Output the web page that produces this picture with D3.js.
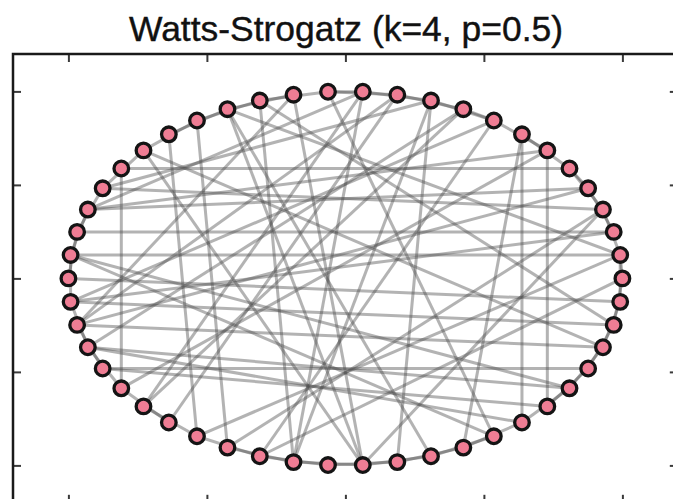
<!DOCTYPE html>
<html>
<head>
<meta charset="utf-8">
<script src="https://cdn.jsdelivr.net/npm/d3@7"></script>
<style>
  html, body { margin: 0; padding: 0; background: #fff; }
  svg { display: block; }
</style>
</head>
<body>
<svg id="chart" width="673" height="499"></svg>
<script>
// Watts-Strogatz small-world graph, n = 50, k = 4, p = 0.5, circular layout
const title = "Watts-Strogatz (k=4, p=0.5)";
const nodeCount = 50;
const nodeIds = d3.range(nodeCount);

// Edges kept from the ring lattice (neighbours at distance 1 and 2)
const latticeEdges = [
  [0,1],[1,3],[2,4],[3,5],[4,5],[5,7],[6,8],[8,9],
  [8,10],[9,11],[10,12],[11,13],[12,13],[13,15],[14,16],[15,17],
  [16,18],[17,19],[19,21],[21,23],[22,24],[23,25],[24,26],
  [26,28],[27,29],[28,30],[30,32],[31,33],[33,35],[34,36],[35,37],
  [36,38],[37,39],[38,40],[39,41],[40,42],[41,43],[43,45],[44,46],
  [45,47],[46,48],[47,49],[48,0],[49,1]
];

// Rewired shortcut edges
const shortcutEdges = [
  [20,30],[5,20],[29,46],[7,43],[6,44],[18,33],[17,34],[7,41],[30,6],
  [22,4],[22,6],[21,3],[23,2],[24,1],[26,2],[25,49],[26,48],[27,47],[29,44],[28,45],
  [13,42],[14,38],[16,38],[12,36],[11,27],[12,22],[10,21],[15,48],[16,1],[9,31],
  [8,26],[19,47],[27,4],[28,9],[31,12],[32,11],[34,3],[35,8],[36,15],[38,19],
  [40,16],[42,24],[45,24],[0,35],[1,33],[3,38],[10,36],[14,27],[39,10],[43,28]
];

const xTicks = [-1.0, -0.5, 0.0, 0.5, 1.0];
const yTicks = [-1.0, -0.5, 0.0, 0.5, 1.0];

const svg = d3.select("#chart");

const plotLeft = 13, plotTop = 54;
const unitX = 277, unitY = 187;
const x = d3.scaleLinear().domain([-1.2, 1.2]).range([plotLeft, plotLeft + 2.4 * unitX]);
const y = d3.scaleLinear().domain([-1.2, 1.2]).range([plotTop + 2.4 * unitY, plotTop]);

// circular layout positions
const pos = nodeIds.map(i => {
  const t = 2 * Math.PI * i / nodeCount;
  return [Math.cos(t), Math.sin(t)];
});

const edges = latticeEdges.concat(shortcutEdges);

// edges
svg.append("g")
  .selectAll("line")
  .data(edges)
  .join("line")
  .attr("x1", d => x(pos[d[0]][0]))
  .attr("y1", d => y(pos[d[0]][1]))
  .attr("x2", d => x(pos[d[1]][0]))
  .attr("y2", d => y(pos[d[1]][1]))
  .attr("stroke", "#4a4a4a")
  .attr("stroke-opacity", 0.42)
  .attr("stroke-width", 3);

// nodes
svg.append("g")
  .selectAll("circle")
  .data(nodeIds)
  .join("circle")
  .attr("cx", i => x(pos[i][0]))
  .attr("cy", i => y(pos[i][1]))
  .attr("r", 7.3)
  .attr("fill", "#ef7d94")
  .attr("stroke", "#141414")
  .attr("stroke-width", 3.3);

// frame and inward ticks on all four sides
const x0 = x(-1.2), x1 = x(1.2), y0 = y(-1.2), y1 = y(1.2);
const tickLen = 8;

const axTop = d3.axisBottom(x).tickValues(xTicks).tickSize(tickLen).tickFormat("");
const axBottom = d3.axisTop(x).tickValues(xTicks).tickSize(tickLen).tickFormat("");
const axLeft = d3.axisRight(y).tickValues(yTicks).tickSize(tickLen).tickFormat("");
const axRight = d3.axisLeft(y).tickValues(yTicks).tickSize(tickLen).tickFormat("");

const axes = [
  svg.append("g").attr("transform", `translate(0,${y1})`).call(axTop),
  svg.append("g").attr("transform", `translate(0,${y0})`).call(axBottom),
  svg.append("g").attr("transform", `translate(${x0},0)`).call(axLeft),
  svg.append("g").attr("transform", `translate(${x1},0)`).call(axRight)
];
axes.forEach(g => {
  g.select(".domain").remove();
  g.selectAll(".tick line").attr("stroke", "#3a3a3a").attr("stroke-width", 2);
});

svg.append("rect")
  .attr("x", x0).attr("y", y1)
  .attr("width", x1 - x0).attr("height", y0 - y1)
  .attr("fill", "none")
  .attr("stroke", "#1a1a1a")
  .attr("stroke-width", 2.5);

svg.append("text")
  .attr("x", 346)
  .attr("y", 41)
  .attr("text-anchor", "middle")
  .attr("font-family", "Liberation Sans, Arial, sans-serif")
  .attr("font-size", 35)
  .attr("textLength", 434)
  .attr("lengthAdjust", "spacingAndGlyphs")
  .attr("fill", "#111")
  .attr("stroke", "#111")
  .attr("stroke-width", 0.4)
  .text(title);
</script>
</body>
</html>
